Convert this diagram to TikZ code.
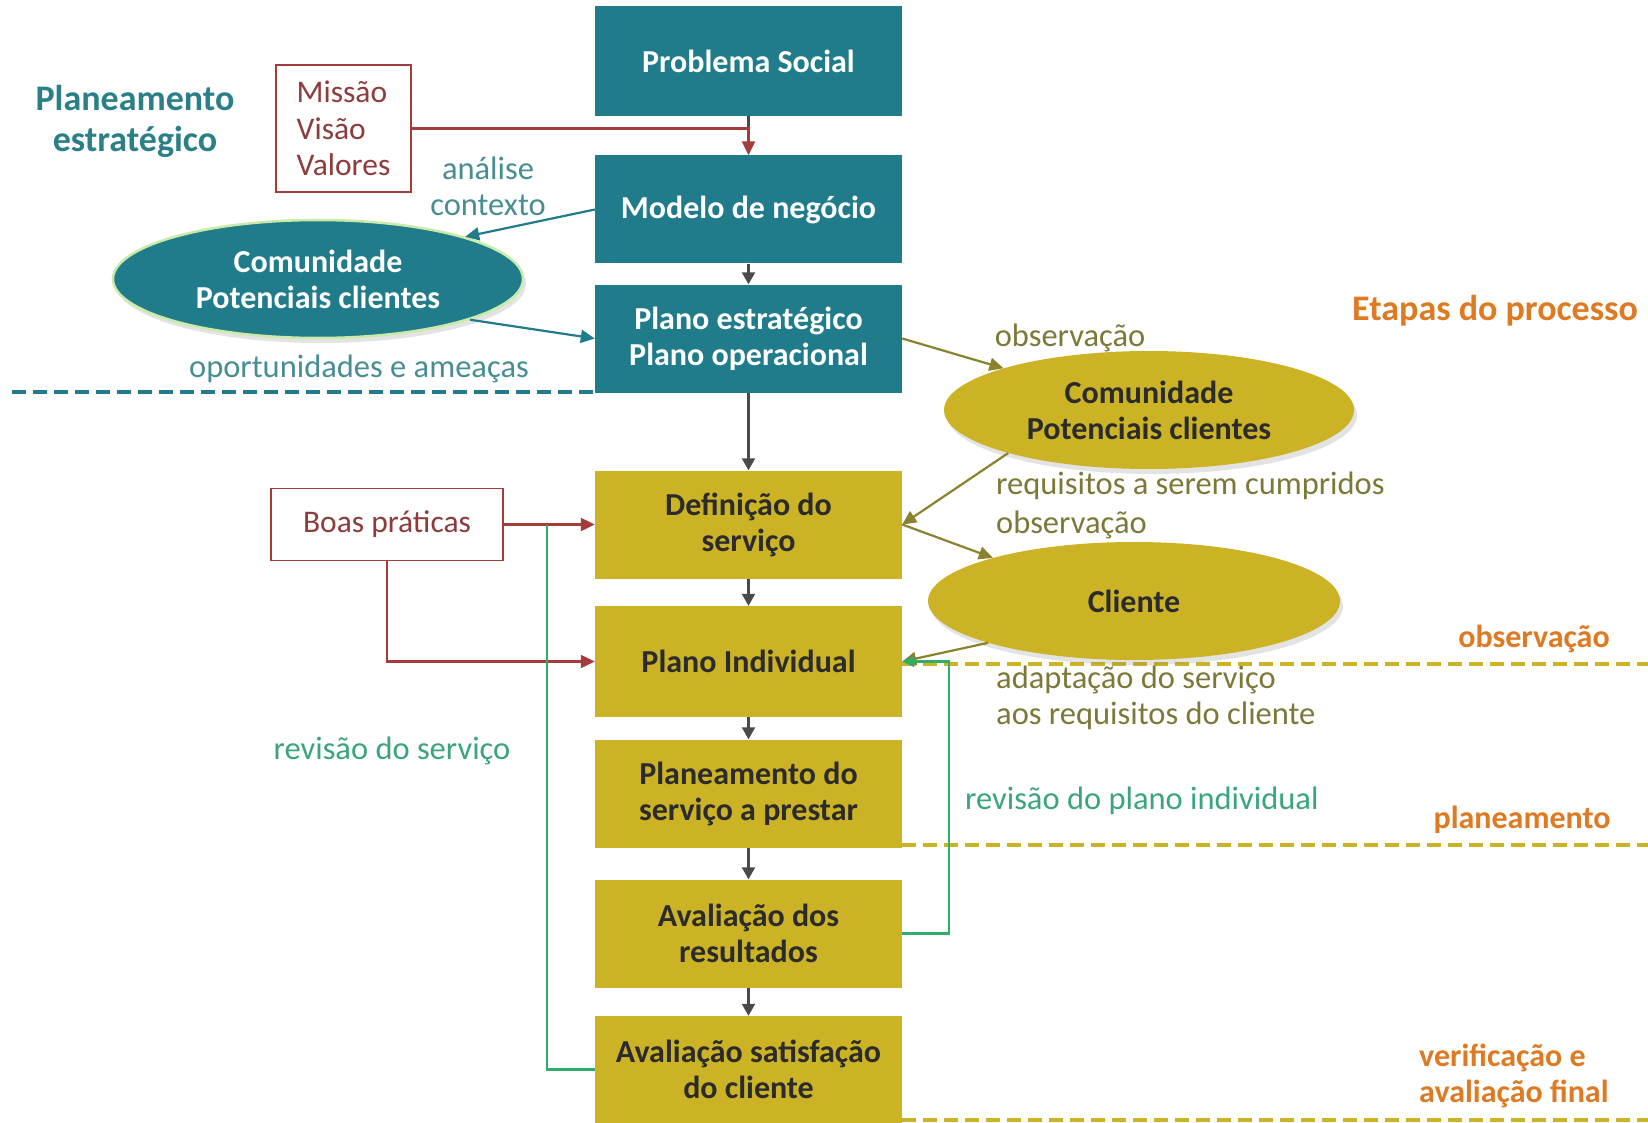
\documentclass[tikz,border=0pt]{standalone}
\usepackage{fontspec}
\setmainfont{Carlito}
\usetikzlibrary{arrows.meta,shapes.geometric,shadows}
\definecolor{tealbox}{HTML}{207C8A}
\definecolor{goldbox}{HTML}{CBB325}
\definecolor{redl}{HTML}{A53C3C}
\definecolor{redt}{HTML}{8E3B3B}
\definecolor{tealt}{HTML}{2A8086}
\definecolor{tealsoft}{HTML}{478E93}
\definecolor{olivel}{HTML}{8A822C}
\definecolor{olivet}{HTML}{7D7838}
\definecolor{orng}{HTML}{DE7A22}
\definecolor{grnl}{HTML}{2EAE6A}
\definecolor{grnt}{HTML}{3AA57A}
\definecolor{darkg}{HTML}{4A4A4A}
\definecolor{boxtxt}{HTML}{2B2B2B}
\tikzset{
  tbox/.style={rectangle, fill=tealbox, text=white, font=\fontsize{32}{36}\selectfont\bfseries,
    minimum width=307pt, minimum height=108pt, align=center, inner sep=0pt},
  gbox/.style={rectangle, fill=goldbox, text=boxtxt, font=\fontsize{32}{36}\selectfont\bfseries,
    minimum width=307pt, minimum height=108pt, align=center, inner sep=0pt},
  tell/.style={ellipse, fill=tealbox, draw=yellow!40!green!35, line width=2.5pt, text=white,
    font=\fontsize{32}{36}\selectfont\bfseries, align=center, inner sep=0pt,
    drop shadow={opacity=0.22, shadow xshift=3pt, shadow yshift=-5pt}},
  gell/.style={ellipse, fill=goldbox, text=boxtxt,
    font=\fontsize{32}{36}\selectfont\bfseries, align=center, inner sep=0pt,
    drop shadow={opacity=0.22, shadow xshift=3pt, shadow yshift=-5pt}},
  rbox/.style={rectangle, draw=redl, line width=1.2pt, text=redt, font=\fontsize{31.5}{36.5}\selectfont, inner sep=0pt},
  lbl/.style={font=\fontsize{32.5}{36}\selectfont, inner sep=0pt},
  stage/.style={font=\fontsize{32}{36}\selectfont\bfseries, text=orng, inner sep=0pt, align=left},
  garr/.style={draw=darkg, line width=2.2pt, -{Triangle[length=12pt,width=13pt]}},
  rarr/.style={draw=redl, line width=2.2pt, -{Triangle[length=14pt,width=13pt]}},
  tarr/.style={draw=tealbox, line width=2.2pt, -{Triangle[length=14pt,width=13pt]}},
  oarr/.style={draw=olivel, line width=2.2pt, -{Triangle[length=14pt,width=13pt]}},
  grline/.style={draw=grnl, line width=2.2pt},
  gdash/.style={draw=goldbox, line width=4pt, dash pattern=on 14pt off 7pt},
  tdash/.style={draw=tealbox, line width=4pt, dash pattern=on 14pt off 7pt},
}
\begin{document}
\begin{tikzpicture}[x=1pt,y=-1pt]
\useasboundingbox[fill=white] (0,0) rectangle (1648,1123);

% dashed separators
\draw[tdash] (12,392) -- (595,392);
\draw[gdash] (902,664) -- (1648,664);
\draw[gdash] (902,845) -- (1648,845);
\draw[gdash] (902,1120) -- (1648,1120);

% main column
\node[tbox, minimum height=110pt] (prob) at (748.5,61) {Problema Social};
\node[tbox] (mod) at (748.5,209.5) {Modelo de negócio};
\node[tbox] (pest) at (748.5,338.5) {Plano estratégico\\Plano operacional};
\node[gbox] (def) at (748.5,524.5) {Definição do\\serviço};
\node[gbox, minimum height=111pt] (pind) at (748.5,661.5) {Plano Individual};
\node[gbox] (plan) at (748.5,793.5) {Planeamento do\\serviço a prestar};
\node[gbox] (avr) at (748.5,933.5) {Avaliação dos\\resultados};
\node[gbox, minimum height=107pt] (avs) at (748.5,1069.5) {Avaliação satisfação\\do cliente};

% side boxes
\node[rbox, minimum width=135pt, minimum height=127pt, align=left] (mvv) at (343.5,128.5) {Missão\\Visão\\Valores};
\node[rbox, minimum width=232pt, minimum height=72pt] (boas) at (387,524.5) {Boas práticas};

% ellipses
\node[tell, minimum width=410pt, minimum height=118pt] (tcom) at (318,279) {Comunidade\\Potenciais clientes};
\node[gell, minimum width=410pt, minimum height=118pt] (gcom) at (1149,410) {Comunidade\\Potenciais clientes};
\node[gell, minimum width=412pt, minimum height=118pt] (cli) at (1134,601) {Cliente};

% labels
\node[font=\fontsize{36}{41}\selectfont\bfseries, text=tealt, align=center, inner sep=0pt] (pe) at (135,121) {Planeamento\\estratégico};
\node[lbl, text=tealsoft, align=center] (anc) at (488,186) {análise\\contexto};
\node[lbl, text=tealsoft] (opa) at (359,369) {oportunidades e ameaças};
\node[lbl, text=olivet] (obs1) at (1070,338) {observação};
\node[lbl, text=olivet, anchor=west] (req) at (996,486) {requisitos a serem cumpridos};
\node[lbl, text=olivet, anchor=west] (obs2) at (996,525) {observação};
\node[lbl, text=olivet, anchor=west, align=left] (adap) at (996,698) {adaptação do serviço\\aos requisitos do cliente};
\node[lbl, text=grnt, anchor=west] (rpi) at (965,801) {revisão do plano individual};
\node[lbl, text=grnt] (rsv) at (392,751) {revisão do serviço};
\node[stage, font=\fontsize{36}{41}\selectfont\bfseries, anchor=east] (etp) at (1638,311) {Etapas do processo};
\node[stage] (sobs) at (1534,639) {observação};
\node[stage] (spla) at (1522,820) {planeamento};
\node[stage, anchor=west] (sver) at (1419,1076) {verificação e\\avaliação final};

% connectors main column
\coordinate (jn) at (prob.south |- mvv.east);
\draw[draw=darkg, line width=2.2pt] (prob.south) -- (jn);
\draw[rarr] (mvv.east) -| (mod.north);
\draw[garr] (mod.south) -- (pest.north);
\draw[garr] (pest.south) -- (def.north);
\draw[garr] (def.south) -- (pind.north);
\draw[garr] (pind.south) -- (plan.north);
\draw[garr] (plan.south) -- (avr.north);
\draw[garr] (avr.south) -- (avs.north);

% teal arrows
\draw[tarr] (mod.west) -- (tcom.16);
\draw[tarr] (tcom.-15) -- (pest.west);

% olive arrows
\draw[oarr] (pest.east) -- (gcom.164);
\draw[oarr] (gcom.197) -- (def.east);
\draw[oarr] (def.east) -- (cli.163);
\draw[oarr] (cli.196) -- (pind.east);

% red from boas
\draw[rarr] (boas.east) -- (def.west);
\draw[rarr] (boas.south) |- (pind.west);

% green loops
\coordinate (gj) at (547,524.5);
\draw[grline] (avs.west) -| (gj);
\draw[grline, -{Triangle[length=12pt,width=11pt]}] (avr.east) -- ++(47,0) |- (pind.east);
\end{tikzpicture}
\end{document}
